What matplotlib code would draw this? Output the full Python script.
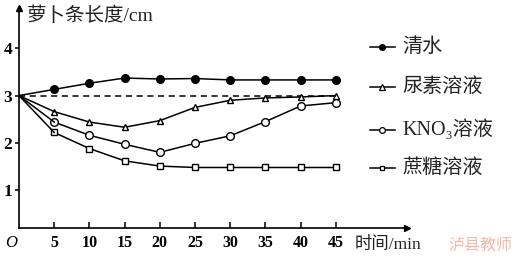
import matplotlib
matplotlib.use("Agg")
from matplotlib import pyplot as plt

plt.rcParams["font.family"] = ["Liberation Serif", "Noto Sans CJK SC", "DejaVu Sans"]

t = [0, 5, 10, 15, 20, 25, 30, 35, 40, 45]
water = [3.0, 3.13, 3.26, 3.37, 3.35, 3.36, 3.33, 3.33, 3.33, 3.33]
urea = [3.0, 2.66, 2.44, 2.33, 2.47, 2.75, 2.90, 2.95, 2.97, 3.0]
kno3 = [3.0, 2.44, 2.16, 1.97, 1.80, 1.99, 2.15, 2.45, 2.78, 2.85]
sucrose = [3.0, 2.22, 1.88, 1.62, 1.51, 1.48, 1.48, 1.48, 1.48, 1.48]

labels = ["清水", "尿素溶液", "KNO₃溶液", "蔗糖溶液"]
legend_y = [4.02, 3.18, 2.27, 1.46]
xticks = [5, 10, 15, 20, 25, 30, 35, 40, 45]
yticks = [1, 2, 3, 4]

fam = ["Liberation Serif", "Noto Sans CJK SC", "DejaVu Sans"]

fig = plt.figure(figsize=(5.16, 2.58), dpi=100)
ax = fig.add_axes([0.0368, 0.116, 0.752, 0.853])
ax.set_xlim(0, 55.1)
ax.set_ylim(0.2, 4.85)

styles = [
    dict(marker="o", mfc="black", ms=5.5),
    dict(marker="^", mfc="white", ms=5),
    dict(marker="o", mfc="white", ms=5.5),
    dict(marker="s", mfc="white", ms=4.5),
]
series = [water, urea, kno3, sucrose]

ax.plot([0, 45], [3, 3], "--", color="black", lw=1.1, dashes=(4, 3))
for ys, st in zip(series, styles):
    ax.plot(t[1:], ys[1:], color="black", lw=1.1, mec="black", mew=1.0, **st)
    ax.plot(t[:2], ys[:2], color="black", lw=1.1)

# hand-made legend
for lab, ly, st in zip(labels, legend_y, styles):
    ax.plot([49.9, 53.4], [ly, ly], color="black", lw=1.1, clip_on=False)
    ax.plot([51.6], [ly], color="black", mec="black", mew=0.9, clip_on=False,
            marker=st["marker"], mfc=st["mfc"], ms=st["ms"] * 0.75)
    ax.text(54.4, ly, lab, fontsize=14.5, va="center", ha="left",
            family=fam, color="#222222")

for s in ["top", "right"]:
    ax.spines[s].set_visible(False)
for s in ["left", "bottom"]:
    ax.spines[s].set_linewidth(1.2)
ax.plot(1, 0, ">k", ms=5, transform=ax.transAxes, clip_on=False)
ax.plot(0, 1, "^k", ms=5, transform=ax.transAxes, clip_on=False)

ax.set_xticks(xticks)
ax.set_yticks(yticks)
ax.tick_params(axis="x", direction="in", length=4, width=1.1, labelsize=11.5, pad=5)
ax.tick_params(axis="y", direction="out", length=3, width=1.1, labelsize=12.5, pad=2)
for lb in ax.get_xticklabels() + ax.get_yticklabels():
    lb.set_fontweight("bold")

fig.text(0.022, 0.06, "O", fontsize=12, style="italic", family="Liberation Serif",
         ha="center", va="center")
fig.text(0.052, 0.94, "萝卜条长度/cm", fontsize=14, ha="left", va="center",
         family=fam, color="#222222")
fig.text(0.688, 0.05, "时间/min", fontsize=12.5, ha="left", va="center",
         family=fam, color="#222222")
fig.text(0.868, 0.05, "泸县教师", fontsize=11.5, ha="left", va="center",
         family=["Noto Sans CJK SC", "DejaVu Sans"], color="#f2b8a8")

fig.savefig("out.png", dpi=100)
